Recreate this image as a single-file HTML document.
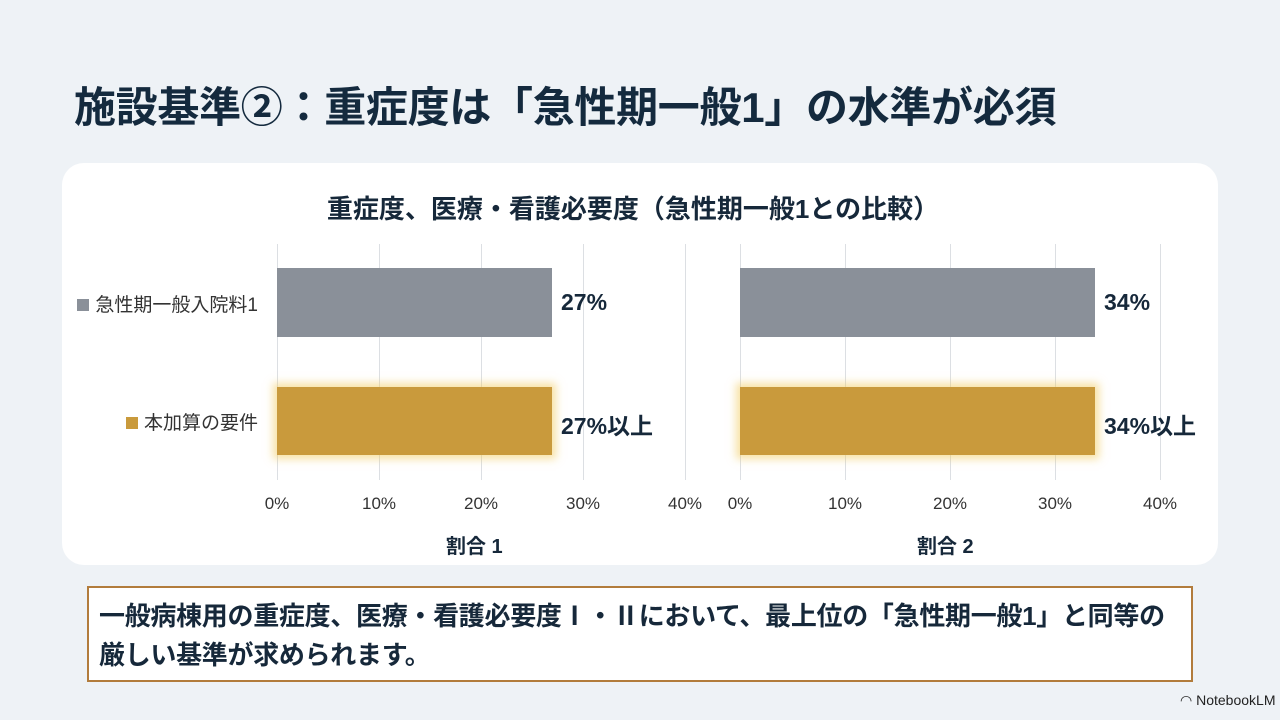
<!DOCTYPE html>
<html><head><meta charset="utf-8"><style>
body{margin:0;width:1280px;height:720px;background:#eef2f6;font-family:"Liberation Sans","Noto Sans CJK JP",sans-serif;position:relative;overflow:hidden;color:#16283a}
.a{position:absolute}
.t{left:74px;top:74px;font-size:42px;font-weight:bold;color:#142a3e;white-space:nowrap;letter-spacing:-0.3px}
.card{left:62px;top:163px;width:1156px;height:402px;background:#fff;border-radius:22px}
.g{width:1px;background:#dcdfe3;top:244px;height:236px}
.tick{top:494px;font-size:17px;color:#333;transform:translateX(-50%)}
.bar1{background:#8a9099;top:268px;height:69px;left:277px}
.bar2{background:#c99a3c;top:387px;height:68px;box-shadow:0 0 8px 4px rgba(240,200,90,.55)}
.v{font-size:23px;font-weight:bold;color:#16283a}
.leg{font-size:19px;color:#333;white-space:nowrap}
.sq{display:inline-block;width:12px;height:12px;margin-right:6px;vertical-align:0}
</style></head><body>
<div class="a t">施設基準②：重症度は「急性期一般1」の水準が必須</div>
<div class="a card"></div>
<div class="a" style="left:0;width:1266px;top:189px;text-align:center;font-size:26px;font-weight:bold;color:#16283a">重症度、医療・看護必要度（急性期一般1との比較）</div>

<div class="a g" style="left:277px"></div><div class="a g" style="left:379px"></div><div class="a g" style="left:481px"></div><div class="a g" style="left:583px"></div><div class="a g" style="left:685px"></div>
<div class="a g" style="left:740px"></div><div class="a g" style="left:845px"></div><div class="a g" style="left:950px"></div><div class="a g" style="left:1055px"></div><div class="a g" style="left:1160px"></div>

<div class="a bar1" style="width:275px"></div>
<div class="a bar2" style="left:277px;width:275px"></div>
<div class="a bar1" style="left:740px;width:355px"></div>
<div class="a bar2" style="left:740px;width:355px"></div>

<div class="a v" style="left:561px;top:289px">27%</div>
<div class="a v" style="left:561px;top:407px">27%以上</div>
<div class="a v" style="left:1104px;top:289px">34%</div>
<div class="a v" style="left:1104px;top:407px">34%以上</div>

<div class="a leg" style="right:1022px;top:290px"><span class="sq" style="background:#8a9099"></span>急性期一般入院料1</div>
<div class="a leg" style="right:1022px;top:408px"><span class="sq" style="background:#c99a3c"></span>本加算の要件</div>

<div class="a tick" style="left:277px">0%</div><div class="a tick" style="left:379px">10%</div><div class="a tick" style="left:481px">20%</div><div class="a tick" style="left:583px">30%</div><div class="a tick" style="left:685px">40%</div>
<div class="a tick" style="left:740px">0%</div><div class="a tick" style="left:845px">10%</div><div class="a tick" style="left:950px">20%</div><div class="a tick" style="left:1055px">30%</div><div class="a tick" style="left:1160px">40%</div>

<div class="a" style="left:446px;top:530px;font-size:20px;font-weight:bold">割合 1</div>
<div class="a" style="left:917px;top:530px;font-size:20px;font-weight:bold">割合 2</div>

<div class="a" style="left:87px;top:586px;width:1106px;height:96px;border:2px solid #b27c3c;background:#fff;box-sizing:border-box"></div>
<div class="a" style="left:99px;top:597px;width:1094px;font-size:26px;font-weight:bold;line-height:39px;color:#16283a;white-space:nowrap;letter-spacing:-0.3px">一般病棟用の重症度、医療・看護必要度Ⅰ・Ⅱにおいて、最上位の「急性期一般1」と同等の<br>厳しい基準が求められます。</div>

<div class="a" style="left:1180px;top:692px;font-size:14px;color:#222">◠ NotebookLM</div>
</body></html>
